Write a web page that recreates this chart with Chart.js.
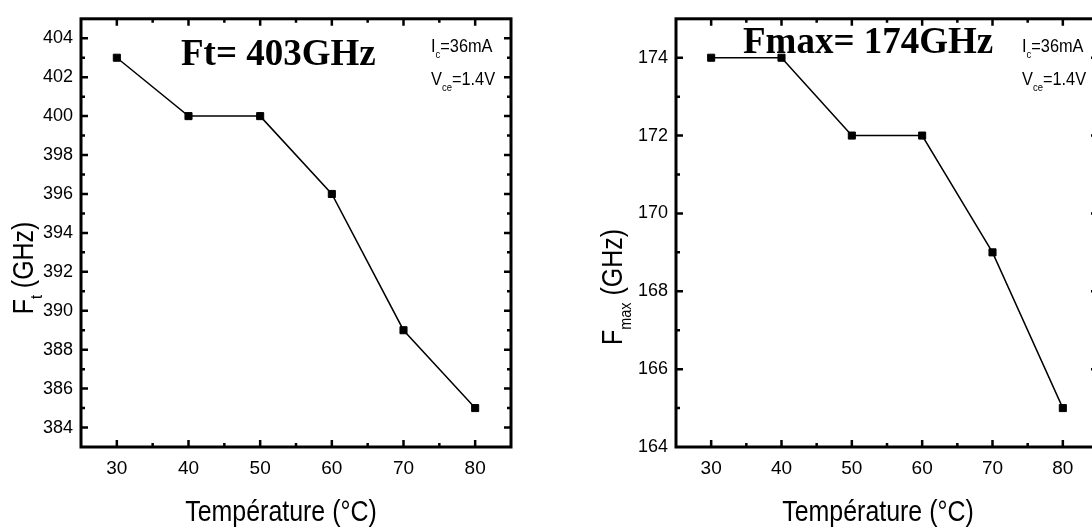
<!DOCTYPE html>
<html>
<head>
<meta charset="utf-8">
<script src="https://cdn.jsdelivr.net/npm/chart.js@4/dist/chart.umd.min.js"></script>
<style>
  html, body { margin: 0; padding: 0; background: #fff; overflow: hidden; width: 1092px; height: 529px; }
  canvas { position: absolute; top: 0; }
  #ft { left: 0; }
  #fmax { left: 560px; }
</style>
</head>
<body>
<canvas id="ft" width="546" height="529"></canvas>
<canvas id="fmax" width="573" height="529"></canvas>
<script>
// Measured cut-off frequencies versus temperature (Ic = 36 mA, Vce = 1.4 V)
const temperatures = [30, 40, 50, 60, 70, 80];
const ftValues     = [403, 400, 400, 396, 389, 385];
const fmaxValues   = [174, 174, 172, 172, 169, 165];

// Axis ranges and labelled ticks
const tempRange   = [25, 85];
const ftRange     = [383, 405];
const fmaxRange   = [164, 175];
const tempTicks   = [30, 40, 50, 60, 70, 80];
const ftTicks     = [384, 386, 388, 390, 392, 394, 396, 398, 400, 402, 404];
const fmaxTicks   = [164, 166, 168, 170, 172, 174];

const SANS  = "'Liberation Sans', Arial, sans-serif";
const SERIF = "'Liberation Serif', 'Times New Roman', serif";
const NARROW = 0.86; // horizontal squeeze giving a condensed sans look

// Draws a run of text pieces (some as subscripts), condensed horizontally
function richWidth(ctx, parts, size) {
  let w = 0;
  for (const p of parts) {
    ctx.font = (p.sub ? size * 0.58 : size) + 'px ' + SANS;
    w += ctx.measureText(p.t).width;
  }
  return w * NARROW;
}
function drawRich(ctx, parts, x, y, size) {
  ctx.save();
  ctx.translate(x, y);
  ctx.scale(NARROW, 1);
  let cx = 0;
  for (const p of parts) {
    const s = p.sub ? size * 0.58 : size;
    ctx.font = s + 'px ' + SANS;
    ctx.fillText(p.t, cx, p.sub ? size * 0.3 : 0);
    cx += ctx.measureText(p.t).width;
  }
  ctx.restore();
}

// Box frame with inward major/minor ticks on all four sides
const framePlugin = {
  id: 'frame',
  afterDatasetsDraw(chart) {
    const { ctx, chartArea: a, scales } = chart;
    const cfg = chart.options.plugins.frame;
    ctx.save();
    ctx.strokeStyle = '#000';
    ctx.lineCap = 'butt';
    ctx.lineWidth = 2.5;
    const xs = scales.x, ys = scales.y;
    for (const t of xs.ticks) {
      if (t.value <= xs.min || t.value >= xs.max) continue;
      const len = cfg.xMajor.includes(t.value) ? 7 : 4;
      const px = xs.getPixelForValue(t.value);
      ctx.beginPath();
      ctx.moveTo(px, a.bottom); ctx.lineTo(px, a.bottom - len);
      ctx.moveTo(px, a.top); ctx.lineTo(px, a.top + len);
      ctx.stroke();
    }
    for (const t of ys.ticks) {
      if (t.value <= ys.min || t.value >= ys.max) continue;
      const len = cfg.yMajor.includes(t.value) ? 7 : 4;
      const py = ys.getPixelForValue(t.value);
      ctx.beginPath();
      ctx.moveTo(a.left, py); ctx.lineTo(a.left + len, py);
      ctx.moveTo(a.right, py); ctx.lineTo(a.right - len, py);
      ctx.stroke();
    }
    ctx.lineWidth = 3;
    ctx.strokeRect(a.left, a.top, a.right - a.left, a.bottom - a.top);
    ctx.restore();
  }
};

// Headline, bias conditions and axis titles
const textPlugin = {
  id: 'texts',
  afterDraw(chart) {
    const { ctx, chartArea: a } = chart;
    const c = chart.options.plugins.texts;
    ctx.save();
    ctx.fillStyle = '#000';
    ctx.textBaseline = 'alphabetic';
    ctx.textAlign = 'left';

    ctx.font = 'bold ' + c.headSize + 'px ' + SERIF;
    ctx.fillText(c.head, a.left + c.headX, a.top + c.headY);

    drawRich(ctx, [{ t: 'I' }, { t: 'c', sub: true }, { t: '=36mA' }], a.right - c.biasX, a.top + 33, 19);
    drawRich(ctx, [{ t: 'V' }, { t: 'ce', sub: true }, { t: '=1.4V' }], a.right - c.biasX, a.top + 66, 19);

    // x axis title
    const xt = [{ t: 'Température (°C)' }];
    const xw = richWidth(ctx, xt, 29);
    drawRich(ctx, xt, (a.left + a.right) / 2 + c.xTitleDx - xw / 2, a.bottom + 74, 29);

    // y axis title, rotated
    const w = richWidth(ctx, c.yTitle, 29);
    ctx.translate(a.left + c.yTitleDx, c.yTitleCy);
    ctx.rotate(-Math.PI / 2);
    drawRich(ctx, c.yTitle, -w / 2, 0, 29);
    ctx.restore();
  }
};

function makeChart(id, values, yRange, yTicks, axisWidth, texts) {
  const points = temperatures.map((t, i) => ({ x: t, y: values[i] }));
  return new Chart(document.getElementById(id), {
    type: 'line',
    data: {
      datasets: [{
        data: points,
        borderColor: '#000',
        borderWidth: 1.5,
        pointStyle: 'rect',
        pointRadius: 5,
        pointBorderWidth: 1,
        pointBackgroundColor: '#000',
        pointBorderColor: '#000',
        tension: 0,
        fill: false
      }]
    },
    options: {
      responsive: false,
      animation: false,
      events: [],
      layout: { padding: { left: 0, right: 35, top: 12, bottom: 0 } },
      scales: {
        x: {
          type: 'linear',
          min: tempRange[0], max: tempRange[1],
          grid: { display: false, drawTicks: false },
          border: { display: false },
          ticks: {
            stepSize: 5, autoSkip: false, maxRotation: 0, padding: 10,
            color: '#000', font: { family: SANS, size: 19 },
            callback: v => tempTicks.includes(v) ? String(v) : ''
          },
          afterFit: s => { s.height = 82; }
        },
        y: {
          type: 'linear',
          min: yRange[0], max: yRange[1],
          grid: { display: false, drawTicks: false },
          border: { display: false },
          ticks: {
            stepSize: 1, autoSkip: false, padding: 8,
            color: '#000', font: { family: SANS, size: 18 },
            callback: v => yTicks.includes(v) ? String(v) : ''
          },
          afterFit: s => { s.width = axisWidth; }
        }
      },
      plugins: {
        legend: { display: false },
        tooltip: { enabled: false },
        frame: { xMajor: tempTicks, yMajor: yTicks },
        texts: texts
      }
    },
    plugins: [framePlugin, textPlugin]
  });
}

makeChart('ft', ftValues, ftRange, ftTicks, 81, {
  head: 'Ft= 403GHz', headSize: 37, headX: 100, headY: 46,
  biasX: 80,
  xTitleDx: -15,
  yTitle: [{ t: 'F' }, { t: 't', sub: true }, { t: ' (GHz)' }],
  yTitleDx: -48, yTitleCy: 268
});

makeChart('fmax', fmaxValues, fmaxRange, fmaxTicks, 116, {
  head: 'Fmax= 174GHz', headSize: 37, headX: 67, headY: 34,
  biasX: 76,
  xTitleDx: -9,
  yTitle: [{ t: 'F' }, { t: 'max', sub: true }, { t: ' (GHz)' }],
  yTitleDx: -54, yTitleCy: 287
});
</script>
</body>
</html>
